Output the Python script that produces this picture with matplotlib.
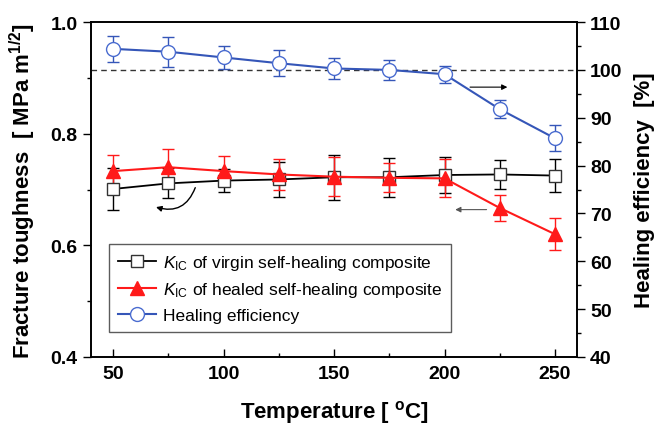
import matplotlib
matplotlib.use('Agg')
import matplotlib.pyplot as plt

plt.rcParams['font.family'] = ['Liberation Sans', 'DejaVu Sans']
plt.rcParams['mathtext.fontset'] = 'custom'
plt.rcParams['mathtext.rm'] = 'Liberation Sans'
plt.rcParams['mathtext.it'] = 'Liberation Sans:italic'
plt.rcParams['mathtext.bf'] = 'Liberation Sans:bold'

temp = [50, 75, 100, 125, 150, 175, 200, 225, 250]

k_virgin = [0.701, 0.711, 0.716, 0.718, 0.722, 0.722, 0.726, 0.727, 0.725]
k_virgin_err = [0.037, 0.027, 0.020, 0.032, 0.040, 0.035, 0.033, 0.026, 0.029]

k_healed = [0.733, 0.740, 0.733, 0.727, 0.723, 0.721, 0.720, 0.667, 0.620]
k_healed_err = [0.029, 0.033, 0.027, 0.028, 0.035, 0.026, 0.034, 0.024, 0.029]

eff = [104.4, 103.8, 102.6, 101.4, 100.3, 100.0, 99.1, 91.8, 85.7]
eff_err = [2.7, 3.1, 2.5, 2.7, 2.1, 2.1, 1.8, 1.9, 2.7]

blue = '#3556b8'
red = '#ff1a1a'

fig = plt.figure(figsize=(6.55, 4.27), dpi=100)
ax = fig.add_axes([0.139, 0.1616, 0.742, 0.7844])
ax2 = ax.twinx()

ax.errorbar(temp, k_virgin, yerr=k_virgin_err, fmt='none', ecolor='black',
            elinewidth=1, capsize=4, capthick=1, zorder=2)
h1, = ax.plot(temp, k_virgin, color='black', lw=1.3, marker='s', ms=8,
              mfc='white', mec='#333333', mew=1, zorder=3)
ax.errorbar(temp, k_healed, yerr=k_healed_err, fmt='none', ecolor=red,
            elinewidth=1, capsize=4, capthick=1, zorder=2)
h2, = ax.plot(temp, k_healed, color=red, lw=1.5, marker='^', ms=10,
              mfc=red, mec=red, zorder=4)

ax2.errorbar(temp, eff, yerr=eff_err, fmt='none', ecolor=blue,
             elinewidth=1, capsize=4, capthick=1, zorder=2)
h3, = ax2.plot(temp, eff, color=blue, lw=1.5, marker='o', ms=10,
               mfc='white', mec='#4a6cd0', mew=1, zorder=3)
ax2.axhline(100, color='#333333', lw=1, ls=(0, (4, 3)), zorder=1)

ax.set_xlim(40, 260)
ax.set_ylim(0.4, 1.0)
ax2.set_ylim(40, 110)

ax.set_xticks([50, 100, 150, 200, 250])
ax.set_xticks([75, 125, 175, 225], minor=True)
ax.set_yticks([0.4, 0.6, 0.8, 1.0])
ax.set_yticks([0.5, 0.7, 0.9], minor=True)
ax2.set_yticks([40, 50, 60, 70, 80, 90, 100, 110])
ax2.set_yticks([45, 55, 65, 75, 85, 95, 105], minor=True)

ax.tick_params(axis='x', which='major', direction='in', length=6, width=1,
               labelsize=14, pad=6)
ax.tick_params(axis='x', which='minor', direction='in', length=3, width=1)
ax.tick_params(axis='y', which='major', direction='out', length=6, width=1,
               labelsize=14)
ax.tick_params(axis='y', which='minor', direction='out', length=3, width=1)
ax2.tick_params(axis='y', which='major', direction='out', length=6, width=1,
                labelsize=14)
ax2.tick_params(axis='y', which='minor', direction='out', length=3, width=1)
for lab in ax.get_xticklabels() + ax.get_yticklabels() + ax2.get_yticklabels():
    lab.set_fontweight('bold')
ax.yaxis.set_major_formatter(plt.FormatStrFormatter('%.1f'))

for a in (ax, ax2):
    for s in a.spines.values():
        s.set_linewidth(1.2)

ax.set_xlabel(r'Temperature [ $^{\mathbf{o}}$C]', fontsize=16,
              fontweight='bold', labelpad=11)
ax.set_ylabel(r'Fracture toughness  [ MPa m$^{\mathbf{1/2}}$]', fontsize=16,
              fontweight='bold', labelpad=9)
ax2.set_ylabel('Healing efficiency  [%]', fontsize=16, fontweight='bold',
               labelpad=8)

# arrows pointing to the axes
ax2.annotate('', xy=(229.7, 96.4), xytext=(210.3, 96.4),
             arrowprops=dict(arrowstyle='-|>', color='black', lw=0.8,
                             mutation_scale=8))
ax.annotate('', xy=(203.6, 0.664), xytext=(220.3, 0.664),
            arrowprops=dict(arrowstyle='-|>', color='#555555', lw=0.8,
                            mutation_scale=8))
ax.annotate('', xy=(68.2, 0.670), xytext=(87.6, 0.708),
            arrowprops=dict(arrowstyle='-|>', color='black', lw=1,
                            mutation_scale=8,
                            connectionstyle='arc3,rad=-0.5'))

labels = [r'$\mathit{K}_{\mathrm{IC}}$ of virgin self-healing composite',
          r'$\mathit{K}_{\mathrm{IC}}$ of healed self-healing composite',
          'Healing efficiency']
leg = ax2.legend([h1, h2, h3], labels, loc='lower left',
                 bbox_to_anchor=(0.037, 0.075), borderaxespad=0,
                 fontsize=12.5, frameon=True,
                 fancybox=False, edgecolor='#333333', handlelength=2.2,
                 borderpad=0.5, labelspacing=0.5, handletextpad=0.4)
leg.get_frame().set_linewidth(1)

fig.savefig('out.png', dpi=100)
